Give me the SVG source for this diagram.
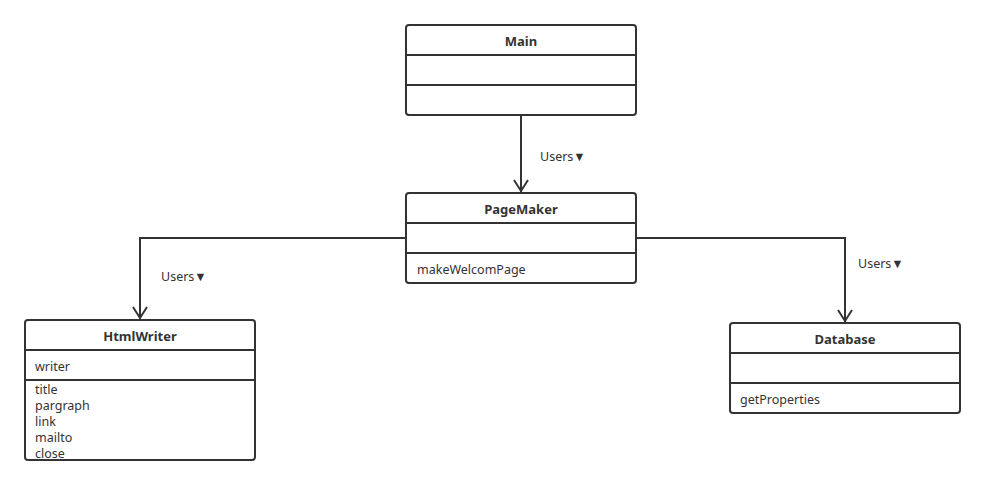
<svg xmlns="http://www.w3.org/2000/svg" width="986" height="485" viewBox="0 0 986 485">
<style>
.box{fill:#fff;stroke:#333;stroke-width:2}
.div{stroke:#333;stroke-width:2}
.t{font-family:"Noto Sans","Liberation Sans",sans-serif;font-size:13px;fill:#333}
.b{font-weight:bold;text-anchor:middle}
.m{font-family:"Noto Sans","Liberation Sans",sans-serif;font-size:12.5px;fill:#333}
.c{fill:none;stroke:#333;stroke-width:2}
</style>
<g id="connectors">
<path class="c" d="M521 116 V192"/>
<path class="c" d="M514 180 L521 191 L528 180"/>
<path class="c" d="M406 238 H140 V319"/>
<path class="c" d="M133 307 L140 318 L147 307"/>
<path class="c" d="M636 238 H845 V322"/>
<path class="c" d="M838 310 L845 321 L852 310"/>
<text class="m" x="540" y="161">Users▼</text>
<text class="m" x="161" y="281">Users▼</text>
<text class="m" x="858" y="268">Users▼</text>
</g>
<g id="Main">
<rect class="box" x="406" y="25" width="230" height="90" rx="3"/>
<line class="div" x1="406" y1="55" x2="636" y2="55"/>
<line class="div" x1="406" y1="85" x2="636" y2="85"/>
<text class="t b" x="521" y="46">Main</text>
</g>
<g id="PageMaker">
<rect class="box" x="406" y="193" width="230" height="90" rx="3"/>
<line class="div" x1="406" y1="223" x2="636" y2="223"/>
<line class="div" x1="406" y1="253" x2="636" y2="253"/>
<text class="t b" x="521" y="214">PageMaker</text>
<text class="m" x="417" y="274">makeWelcomPage</text>
</g>
<g id="HtmlWriter">
<rect class="box" x="25" y="320" width="230" height="140" rx="3"/>
<line class="div" x1="25" y1="350" x2="255" y2="350"/>
<line class="div" x1="25" y1="380" x2="255" y2="380"/>
<text class="t b" x="140" y="341">HtmlWriter</text>
<text class="m" x="35" y="371">writer</text>
<text class="m" x="35" y="394">title</text>
<text class="m" x="35" y="410">pargraph</text>
<text class="m" x="35" y="426">link</text>
<text class="m" x="35" y="442">mailto</text>
<text class="m" x="35" y="458">close</text>
</g>
<g id="Database">
<rect class="box" x="730" y="323" width="230" height="90" rx="3"/>
<line class="div" x1="730" y1="353" x2="960" y2="353"/>
<line class="div" x1="730" y1="383" x2="960" y2="383"/>
<text class="t b" x="845" y="344">Database</text>
<text class="m" x="740" y="404">getProperties</text>
</g>
</svg>
